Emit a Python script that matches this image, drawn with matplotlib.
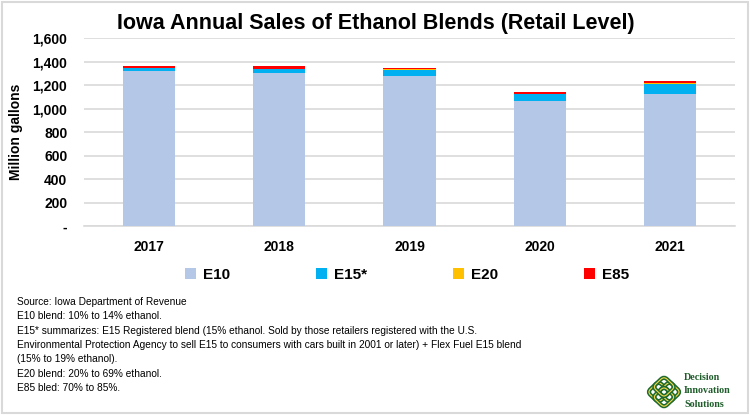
import matplotlib
matplotlib.use("Agg")
import matplotlib.pyplot as plt
import numpy as np
from matplotlib.patches import Rectangle, FancyBboxPatch
import matplotlib.transforms as mtransforms

# data (million gallons)
years = ["2017", "2018", "2019", "2020", "2021"]
e10 = [1320, 1300, 1282, 1063, 1129]
e15 = [24, 40, 50, 63, 85]
e20 = [2, 2, 3, 3, 4]
e85 = [17, 18, 12, 13, 15]
series_names = ["E10", "E15*", "E20", "E85"]
colors = ["#b4c7e7", "#00b0f0", "#ffc000", "#ff0000"]
yticks = [0, 200, 400, 600, 800, 1000, 1200, 1400, 1600]

notes = [
    "Source: Iowa Department of Revenue",
    "E10 blend: 10% to 14% ethanol.",
    "E15* summarizes: E15 Registered blend (15% ethanol. Sold by those retailers registered with the U.S.",
    "Environmental Protection Agency to sell E15 to consumers with cars built in 2001 or later) + Flex Fuel E15 blend",
    "(15% to 19% ethanol).",
    "E20 blend: 20% to 69% ethanol.",
    "E85 bled: 70% to 85%.",
]

plt.rcParams['font.family'] = ['Liberation Sans', 'DejaVu Sans']

fig = plt.figure(figsize=(7.5, 4.15), dpi=100)
ax = fig.add_axes([0.112, 0.4554, 0.868, 0.4523])

x = np.arange(len(years))
bottom = np.zeros(len(years))
for vals, name, c in zip([e10, e15, e20, e85], series_names, colors):
    ax.bar(x, vals, 0.4, bottom=bottom, color=c, label=name, zorder=3)
    bottom += np.array(vals)

ax.set_xlim(-0.5, len(years) - 0.5)
ax.set_ylim(0, 1600)
ax.set_yticks(yticks)
ax.set_yticklabels(["-" if v == 0 else f"{v:,}" for v in yticks])
ax.set_xticks(x)
ax.set_xticklabels(years)
ax.grid(axis='y', color='#d9d9d9', linewidth=1.2, zorder=0)
for s in ['top', 'right', 'left']:
    ax.spines[s].set_visible(False)
ax.spines['bottom'].set_color('#d9d9d9')
ax.spines['bottom'].set_linewidth(1.2)
ax.tick_params(length=0)
ax.tick_params(axis='x', pad=10)
ax.tick_params(axis='y', pad=12)
for lab in ax.get_xticklabels() + ax.get_yticklabels():
    lab.set_fontweight('bold')
    lab.set_fontsize(10)
ax.set_ylabel("Million gallons", fontsize=10, fontweight='bold')
ax.yaxis.set_label_coords(-0.094, 0.5)

fig.text(0.501, 0.943, "Iowa Annual Sales of Ethanol Blends (Retail Level)",
         ha='center', va='center', fontsize=15.5, fontweight='bold')

leg = fig.legend(loc='center', bbox_to_anchor=(0.543, 0.337), ncol=4, frameon=False,
                 handlelength=0.7, handleheight=0.7,
                 columnspacing=5.6, handletextpad=0.5, prop={'weight': 'bold', 'size': 11})

y0 = 302
for i, line in enumerate(notes):
    fig.text(17 / 750, 1 - (y0 + i * 14.3) / 415, line, ha='left', va='center', fontsize=7.3)

# logo
logo_ax = fig.add_axes([646 / 750, 6 / 415, 36 / 750, 34 / 415])
logo_ax.set_xlim(0, 1)
logo_ax.set_ylim(0, 1)
logo_ax.axis('off')
for cx, cy in [(0.35, 0.5), (0.65, 0.5), (0.5, 0.35), (0.5, 0.65)]:
    t = mtransforms.Affine2D().rotate_deg_around(cx, cy, 45) + logo_ax.transData
    p = FancyBboxPatch((cx - 0.2, cy - 0.2), 0.4, 0.4, boxstyle="round,pad=0.02,rounding_size=0.12",
                       fc='none', ec='#1e6b2f', lw=3.0)
    p.set_transform(t)
    logo_ax.add_patch(p)
    p2 = FancyBboxPatch((cx - 0.2, cy - 0.2), 0.4, 0.4, boxstyle="round,pad=0.02,rounding_size=0.12",
                        fc='none', ec='#f2d64b', lw=0.8)
    p2.set_transform(t)
    logo_ax.add_patch(p2)
for i, w in enumerate(["Decision", "Innovation", "Solutions"]):
    fig.text(684 / 750, 1 - (377 + i * 13.5) / 415, w, ha='left', va='center', fontsize=7.2,
             fontweight='bold', family='Liberation Serif', color='#1e5c2a')

fig.patches.append(Rectangle((0.003, 0.004), 0.994, 0.992, transform=fig.transFigure,
                             fill=False, ec='#d9d9d9', lw=1.5))

fig.savefig("out.png", dpi=100)
